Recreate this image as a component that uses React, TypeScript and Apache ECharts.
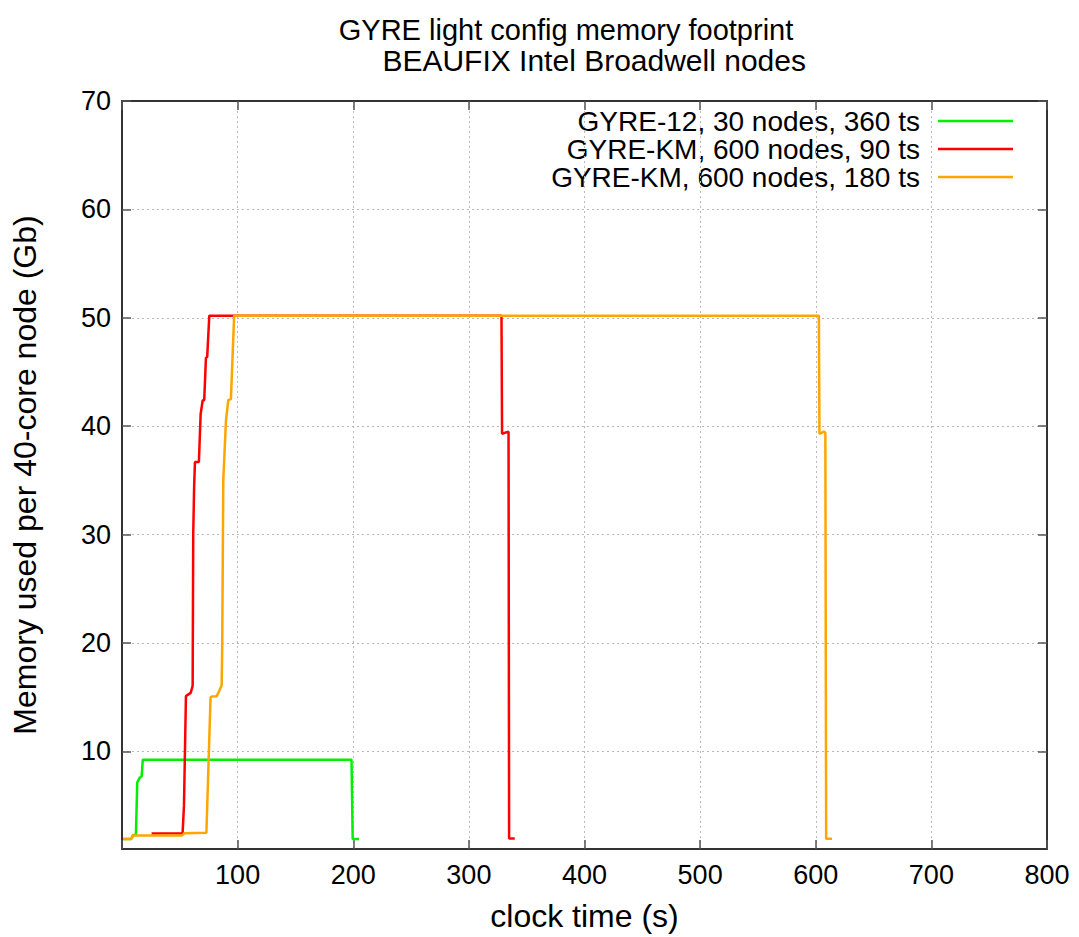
import React, { useEffect, useRef } from "react";
import * as echarts from "echarts";

const titleLines = ["GYRE light config memory footprint", " BEAUFIX Intel Broadwell nodes"];
const xTitle = "clock time (s)";
const yTitle = "Memory used per 40-core node (Gb)";
const yTicks = [10, 20, 30, 40, 50, 60, 70];

const seriesNames = [
  "GYRE-12, 30 nodes, 360 ts",
  "GYRE-KM, 600 nodes, 90 ts",
  "GYRE-KM, 600 nodes, 180 ts",
];
const seriesColors = ["#00f000", "#ff0000", "#ffa500"];

const gyre12Time = [1, 8, 10, 12, 13.2, 15.5, 17, 18, 198.5, 199.5, 205];
const gyre12Mem = [1.93, 1.93, 2.3, 2.3, 7.15, 7.6, 7.7, 9.24, 9.24, 1.93, 1.93];

const km90Time = [25.6, 52.4, 53.6, 55.3, 59.4, 61.1, 61.6, 62.4, 63.1, 66.5, 68, 69.8, 71.1, 72.6, 73.7, 75.5, 328.2, 328.7, 334.3, 334.8, 339.7];
const km90Mem = [2.42, 2.45, 5, 15.1, 15.4, 16.05, 30, 34.5, 36.7, 36.7, 41.1, 42.4, 42.4, 46.3, 46.4, 50.2, 50.2, 39.3, 39.5, 1.98, 1.98];

const km180Time = [1, 8, 9, 52, 54, 73, 76.6, 77.8, 81.8, 83.8, 86.2, 86.7, 87.6, 89.9, 91.9, 94.2, 97, 602.7, 603.2, 607, 608.3, 609, 614];
const km180Mem = [1.93, 1.93, 2.25, 2.25, 2.45, 2.5, 15, 15.07, 15.1, 15.5, 16.1, 20, 35, 40.5, 42.4, 42.5, 50.2, 50.2, 39.3, 39.5, 39.4, 1.95, 1.95];

const zip = (a: number[], b: number[]) => a.map((t, i) => [t, b[i]]);

export default function App() {
  const ref = useRef<HTMLDivElement>(null);
  useEffect(() => {
    if (!ref.current) return;
    const chart = echarts.init(ref.current, null, { renderer: "svg" });
    const font = "Liberation Sans, Arial, sans-serif";
    const frame = { show: true, onZero: false, lineStyle: { color: "#333", width: 2 } };
    const tick = { show: true, inside: true, length: 9, lineStyle: { color: "#555", width: 1.5 } };
    const split = { show: true, lineStyle: { color: "#b8b8b8", width: 1, type: [2, 3] as any } };
    const datas = [zip(gyre12Time, gyre12Mem), zip(km90Time, km90Mem), zip(km180Time, km180Mem)];
    const legendY = [121, 149, 177];
    chart.setOption({
      animation: false,
      backgroundColor: "#fff",
      grid: { left: 122, right: 32, top: 101, bottom: 84, containLabel: false },
      xAxis: [
        {
          type: "value", min: 0, max: 800, interval: 100, position: "bottom",
          axisLine: frame, axisTick: tick, splitLine: split,
          axisLabel: { color: "#000", fontSize: 27, fontFamily: font, margin: 12, formatter: (v: number) => (v === 0 ? "" : String(v)) },
          name: xTitle, nameLocation: "middle", nameGap: 51,
          nameTextStyle: { color: "#000", fontSize: 32, fontFamily: font },
        },
        {
          type: "value", min: 0, max: 800, interval: 100, position: "top",
          axisLine: frame, axisTick: tick, splitLine: { show: false }, axisLabel: { show: false },
        },
      ],
      yAxis: [
        {
          type: "value", min: 1, max: 70, position: "left",
          axisLine: frame,
          axisTick: { ...tick, customValues: yTicks },
          splitLine: split,
          axisLabel: { color: "#000", fontSize: 27, fontFamily: font, margin: 11, customValues: yTicks },
          name: yTitle, nameLocation: "middle", nameGap: 81,
          nameTextStyle: { color: "#000", fontSize: 32, fontFamily: font },
        },
        {
          type: "value", min: 1, max: 70, position: "right",
          axisLine: frame,
          axisTick: { ...tick, customValues: yTicks },
          splitLine: { show: false },
          axisLabel: { show: false, customValues: yTicks },
        },
      ],
      series: datas.map((d, i) => ({
        type: "line", name: seriesNames[i], data: d, showSymbol: false, symbol: "none",
        lineStyle: { color: seriesColors[i], width: 2.5 }, z: 3 + i,
      })),
      graphic: [
        { type: "text", x: 566, y: 30, style: { text: titleLines[0], fill: "#000", fontSize: 29, lineHeight: 29, fontFamily: font, align: "center", verticalAlign: "middle" } },
        { type: "text", x: 590, y: 60, style: { text: titleLines[1], fill: "#000", fontSize: 30, lineHeight: 30, fontFamily: font, align: "center", verticalAlign: "middle" } },
        ...seriesNames.map((n, i) => ({
          type: "text", x: 920, y: legendY[i],
          style: { text: n, fill: "#000", fontSize: 28, lineHeight: 28, fontFamily: font, align: "right", verticalAlign: "middle" },
        })),
        ...seriesNames.map((n, i) => ({
          type: "line", shape: { x1: 938, y1: legendY[i], x2: 1013, y2: legendY[i] },
          style: { stroke: seriesColors[i], lineWidth: 2.5 },
        })),
      ],
    });
    return () => chart.dispose();
  }, []);
  return <div ref={ref} style={{ width: 1079, height: 937, position: "absolute", left: 0, top: 0 }} />;
}
